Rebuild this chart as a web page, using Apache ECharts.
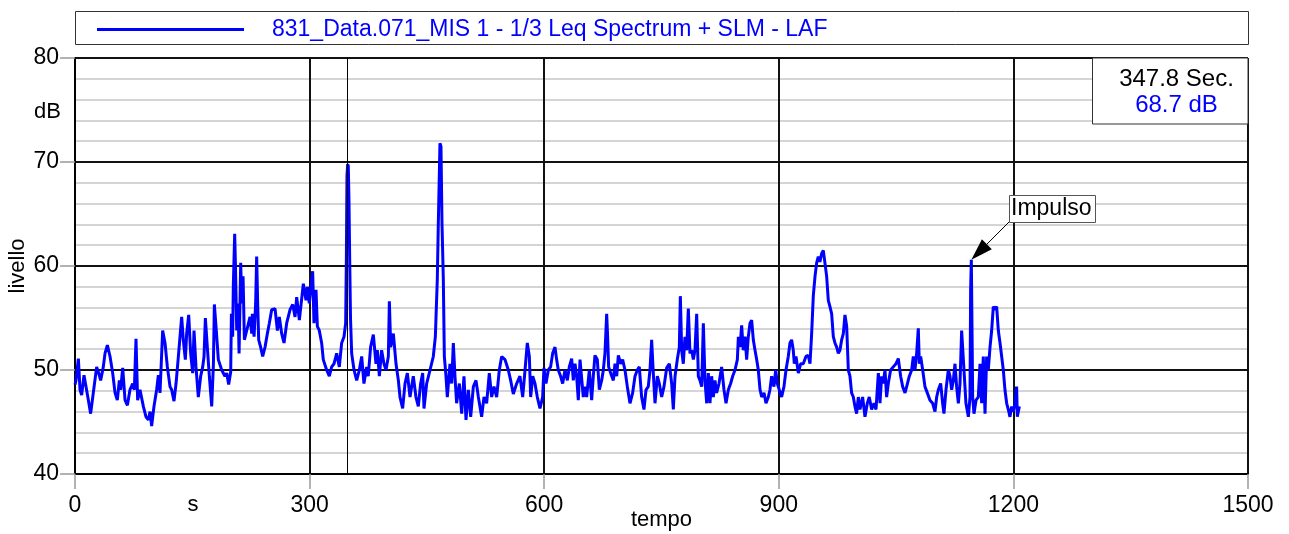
<!DOCTYPE html>
<html><head><meta charset="utf-8">
<script src="https://cdn.jsdelivr.net/npm/echarts@6/dist/echarts.min.js"></script>
<style>html,body{margin:0;padding:0;background:#fff}#c{width:1289px;height:534px}</style>
</head><body><div id="c"></div>
<script>
const seriesName = '831_Data.071_MIS 1 - 1/3 Leq Spectrum + SLM - LAF';
const xAxisTitle = 'tempo';
const xUnit = 's';
const yAxisTitle = 'livello';
const yUnit = 'dB';
const xRange = [0, 1500, 300];
const yRange = [40, 80, 10];

const timesA = [0, 1.3, 4.3, 6.4, 8.5, 11.5, 14.1, 17.1, 20, 23.4,
  27.7, 30.3, 32.8, 36.2, 38.4, 41.4, 44.8, 48.2, 51.2, 54.1,
  56.7, 58.4, 61, 64, 67, 70.3, 73.8, 75.9, 78, 80.1,
  83.1, 87.4, 90.8, 93.8, 96, 98, 101, 104.4, 106.6, 108.7,
  112.1, 115.1, 118.1, 121.5, 123.6, 126.6, 129.2, 132.2, 134.3, 136.4,
  138.5, 141.1, 142.8, 145.4, 147.9, 150.5, 152.2, 154.7, 157.7, 160.7,
  163.3, 165, 166.7, 169.2, 171.8, 174.8, 177, 178.2, 180.3, 183.3,
  187.6, 191.8, 194, 196.5, 199.1, 200, 201.6, 202.5, 204.2, 205.1,
  206.8, 208.5, 209.8, 211.9, 213.2, 214.9, 216.6, 219.6, 223.8, 226,
  226.8, 229, 231, 232.3, 233.6, 234.9, 237.4, 240, 243, 246,
  248.5, 251.5, 255.8, 258.8, 261.3, 264.3, 267.3, 270.7, 275, 278.4,
  281.4, 283.5, 286.9];
const levelsA = [48.6, 49.0, 51.1, 48.1, 47.6, 49.5, 48.4, 47.1, 45.8, 47.8,
  50.3, 49.7, 49.0, 50.3, 51.6, 52.4, 51.3, 49.7, 47.8, 47.1,
  49.0, 48.1, 50.2, 47.1, 46.6, 48.1, 48.7, 48.1, 53.0, 47.1,
  48.1, 46.5, 45.5, 45.2, 46.0, 44.6, 46.5, 48.1, 49.5, 47.8,
  53.8, 52.6, 50.3, 48.4, 48.1, 47.0, 48.7, 51.3, 51.4, 55.1,
  52.9, 51.0, 53.5, 55.3, 51.6, 49.7, 53.8, 50.3, 47.4, 49.4,
  50.3, 51.3, 55.0, 52.2, 49.4, 46.5, 50.6, 56.3, 54.2, 51.0,
  50.0, 49.4, 49.7, 48.6, 49.8, 55.4, 53.2, 58.3, 63.1, 60.3,
  53.8, 56.4, 51.6, 60.3, 56.4, 59.0, 52.9, 53.8, 55.1, 53.5,
  55.4, 53.2, 56.4, 60.9, 56.4, 52.9, 52.2, 51.3, 52.2, 53.5,
  54.5, 55.8, 55.9, 53.8, 55.1, 53.5, 52.6, 54.5, 55.8, 56.3,
  55.1, 57.0, 54.8];

const timesB = [292, 295.4, 297.1, 299.6, 303.9, 305.6, 308.2, 309.9, 312.4, 315.4,
  317.5, 321.8, 325.2, 328.2, 331.2, 334.6, 338, 341, 344, 346.1,
  347, 347.8, 348.7, 349.5, 350.4, 351.3, 352.3, 353.8, 356.8, 360.2,
  363.6, 366.6, 369.5, 373, 375, 378, 381.5, 384.9, 386.6, 389.2,
  392.1, 395.1, 397.7, 400.7, 402, 403.7, 407.1, 410.5, 413.5, 415.6,
  419, 422, 425, 428.4, 432.6, 436, 439, 442, 444.6, 446.3,
  449.7, 454, 458.2, 460.8, 463.3, 464.6, 466.7, 468, 469.3, 471,
  472.3, 474.4, 476.1, 479.5, 481.7, 483.8, 485.9, 488, 491.5, 494.5,
  497.4, 500, 503, 506, 509.4, 512.8, 515.8, 520, 523, 526.4,
  529.8, 532.8, 535.8, 539.2, 542.6, 545.6, 549.9, 554.1, 557.1, 560.5,
  564.8, 569, 572.5, 575.5, 578.4, 581, 582.7, 585.3, 588.2, 591.2,
  594.6];
const levelsB = [58.3, 56.7, 58.0, 56.4, 59.5, 54.5, 57.7, 54.2, 53.8, 52.6,
  51.0, 50.0, 49.4, 50.3, 50.6, 51.6, 50.3, 52.6, 53.2, 54.5,
  60.5, 68.7, 69.8, 69.6, 66.0, 60.5, 55.0, 51.6, 50.0, 49.0,
  50.0, 51.3, 48.7, 50.3, 49.4, 52.2, 53.4, 50.6, 51.9, 49.4,
  51.9, 50.6, 50.0, 51.3, 56.6, 52.2, 53.5, 50.6, 49.0, 47.4,
  46.3, 48.7, 49.7, 47.4, 49.4, 47.4, 46.5, 48.7, 49.7, 46.3,
  48.7, 50.0, 51.3, 53.2, 58.7, 64.1, 71.8, 71.5, 64.1, 58.7,
  51.3, 49.4, 47.4, 50.6, 48.7, 52.6, 49.4, 46.8, 48.7, 45.8,
  49.4, 45.2, 48.1, 45.5, 48.4, 49.0, 47.4, 45.5, 47.4, 46.8,
  49.7, 47.4, 48.4, 47.4, 50.0, 51.3, 51.0, 50.0, 49.0, 47.7,
  48.7, 49.4, 47.4, 50.0, 52.6, 51.3, 47.4, 49.4, 48.7, 47.4,
  46.3];

const timesC = [598, 599.7, 602.3, 605.3, 608.2, 610.8, 613.8, 615.9, 618, 621,
  623.6, 626.6, 629.6, 632.1, 635.1, 637.2, 639.4, 641.5, 643.6, 645.8,
  647.9, 650, 652.2, 654.3, 657.7, 660.7, 662.8, 664.9, 667.9, 670.5,
  673.5, 675.6, 677.7, 679.9, 681.1, 682.4, 685, 688.4, 690.5, 692.7,
  694.8, 697.8, 700.3, 703.3, 706.3, 709.7, 713.1, 716.1, 719.1, 721.6,
  724.6, 727.6, 730.2, 733.1, 735.3, 737.4, 739.5, 741.7, 744.7, 747.2,
  750.2, 753.2, 756.6, 760, 763, 765.1, 767.3, 770.2, 772.8, 774.1,
  775.8, 777.9, 780, 782.2, 784.3, 786.4, 788.6, 790.7, 792.8, 795,
  797.1, 799.2, 801.4, 803.5, 805.6, 807.8, 809.9, 812, 814.1, 816.3,
  818.4, 820.5, 823.5, 826.9, 829.9, 832.5, 835.5, 838.4, 841, 844,
  847, 848.3, 850.4, 852.5, 854.6, 856.8, 858.9, 861, 863.2, 865.3,
  867.4, 869.6, 871.7, 873.8, 876, 878.1, 881.1, 883.6, 886.6];
const levelsC = [47.4, 50.2, 48.7, 50.0, 50.3, 51.6, 52.2, 51.0, 50.0, 49.4,
  48.7, 50.0, 49.0, 50.3, 51.1, 49.0, 50.6, 49.4, 47.1, 51.0,
  51.0, 47.4, 48.4, 47.4, 50.0, 47.1, 49.4, 51.4, 51.0, 48.1,
  49.0, 50.0, 51.6, 55.4, 53.2, 50.3, 49.7, 49.0, 50.6, 49.4,
  51.4, 50.6, 51.0, 50.0, 48.4, 46.8, 47.8, 49.4, 50.0, 50.3,
  47.4, 46.2, 48.1, 48.4, 50.0, 52.9, 49.7, 46.8, 49.4, 48.7,
  47.4, 48.4, 50.2, 50.6, 48.7, 46.2, 49.4, 51.0, 52.2, 57.1,
  51.9, 50.6, 53.2, 51.9, 55.9, 51.6, 51.9, 51.0, 51.9, 55.4,
  49.4, 49.0, 48.4, 54.5, 49.0, 46.8, 49.7, 46.8, 49.4, 47.4,
  49.0, 47.8, 48.7, 50.3, 48.1, 46.8, 48.1, 48.7, 49.4, 50.0,
  51.0, 53.2, 52.2, 54.3, 51.9, 53.2, 51.0, 53.2, 54.5, 54.8,
  52.9, 51.9, 51.0, 50.0, 48.1, 47.4, 47.8, 46.8, 47.4];

const timesD = [888.7, 890.8, 893.8, 896, 898.1, 900.6, 903.6, 906.6, 909.2, 912.1,
  914.3, 916.4, 918.5, 919.8, 922, 925, 927.9, 931.3, 934.7, 937.7,
  939.9, 942, 944.1, 946.3, 948.4, 950.5, 952.6, 954.8, 956.9, 959,
  961.2, 963.3, 965.4, 967.6, 969.7, 971.8, 974, 976.1, 978.2, 980.4,
  982.5, 984.6, 986.8, 988.9, 991, 993.1, 995.3, 997.4, 999.5, 1001.7,
  1003.8, 1007.2, 1010.2, 1013.2, 1015.7, 1018.7, 1021.7, 1024.3, 1027.3, 1029.4,
  1031.5, 1033.6, 1035.8, 1037.9, 1040, 1043, 1046.4, 1049.8, 1052.8, 1055.8,
  1058.4, 1061.4, 1063.5, 1066.9, 1069.9, 1072, 1074.1, 1076.3, 1078.4, 1079.7,
  1081.4, 1084, 1086.9, 1089.9, 1093.3, 1096.7, 1099.7, 1101.9, 1104, 1107,
  1109.5, 1111.2, 1113.8, 1116.8, 1118.9, 1121, 1123.2, 1125.3, 1127.4, 1129.6,
  1131.7, 1133.8, 1135.1, 1136.8, 1139.3, 1142.4, 1144.5, 1145.3, 1146.2, 1147.1,
  1147.9, 1149.6, 1152.2, 1155.1, 1157.3, 1159.4, 1161.5, 1163.7, 1165.8, 1167.9,
  1170.1, 1172.2, 1174.3, 1176.5, 1178.6, 1180.7, 1182.9, 1185, 1187.1, 1189.2,
  1191.4, 1193.5, 1195.6, 1197.8, 1199.9, 1202, 1204.1, 1205, 1207.6];
const levelsD = [48.1, 49.4, 48.4, 50.0, 48.7, 48.1, 47.4, 48.4, 50.0, 51.3,
  52.6, 52.9, 51.9, 50.6, 51.3, 49.7, 50.6, 50.6, 51.3, 51.4,
  50.6, 53.5, 57.1, 59.0, 60.3, 60.9, 60.4, 61.2, 61.5, 60.3,
  59.0, 56.7, 56.1, 55.4, 53.2, 52.6, 52.2, 51.6, 51.9, 52.9,
  53.5, 55.3, 54.2, 50.0, 49.4, 47.8, 47.4, 46.5, 45.8, 47.4,
  46.2, 47.4, 45.5, 46.8, 47.4, 46.2, 46.8, 46.2, 49.7, 46.8,
  49.4, 48.7, 50.0, 47.4, 48.7, 50.0, 50.3, 50.6, 51.1, 49.4,
  48.4, 47.8, 48.4, 49.4, 50.0, 51.3, 50.0, 51.6, 54.0, 50.6,
  51.3, 50.0, 48.4, 47.8, 47.1, 46.8, 46.0, 47.4, 48.1, 48.7,
  46.8, 45.8, 48.1, 50.0, 49.4, 48.1, 49.0, 50.6, 48.4, 46.8,
  48.7, 53.8, 53.8, 50.0, 46.8, 45.5, 47.4, 57.7, 60.6, 53.8,
  47.4, 45.8, 47.1, 47.4, 50.6, 46.8, 51.3, 45.8, 51.3, 50.0,
  52.2, 53.8, 56.1, 55.8, 56.1, 53.8, 52.6, 51.3, 50.0, 48.1,
  46.8, 46.2, 45.5, 46.5, 46.0, 46.8, 48.4, 45.5, 46.5];

const cursorTime = 347.8;
const cursorLevel = 68.7;
const impulseTime = 1146.2;
const impulseLevel = 60.6;
const impulseLabel = 'Impulso';

const times = [].concat(timesA, timesB, timesC, timesD);
const levels = [].concat(levelsA, levelsB, levelsC, levelsD);
const seriesData = times.map((t, i) => [t, levels[i]]);

const FONT = "'Liberation Sans', Arial, sans-serif";
const BLUE = '#0000ff';
const chart = echarts.init(document.getElementById('c'), null, {renderer: 'canvas'});

const option = {
  animation: false,
  backgroundColor: '#ffffff',
  textStyle: {fontFamily: FONT},
  grid: {left: 75, right: 41, top: 58, bottom: 60, show: false, containLabel: false, outerBoundsMode: 'none'},
  legend: {
    show: true, left: 92, top: 13,
    icon: 'rect',
    itemWidth: 147, itemHeight: 3,
    textStyle: {fontFamily: FONT, fontSize: 23, color: BLUE, padding: [0, 0, 0, 23]},
    data: [{name: seriesName}]
  },
  xAxis: {
    type: 'value', min: xRange[0], max: xRange[1], interval: xRange[2],
    name: xAxisTitle, nameLocation: 'middle', nameGap: 35, nameMoveOverlap: false,
    nameTextStyle: {fontFamily: FONT, fontSize: 22, color: '#000'},
    axisLine: {show: true, onZero: false, lineStyle: {color: '#000', width: 2}},
    axisTick: {show: true, length: 15, lineStyle: {color: '#999', width: 1.5}},
    axisLabel: {fontFamily: FONT, fontSize: 23, color: '#000', margin: 20, formatter: v => String(v)},
    splitLine: {show: true, lineStyle: {color: '#111', width: 2}}
  },
  yAxis: {
    type: 'value', min: yRange[0], max: yRange[1], interval: yRange[2],
    name: yAxisTitle, nameLocation: 'middle', nameGap: 46, nameRotate: 90, nameMoveOverlap: false,
    nameTextStyle: {fontFamily: FONT, fontSize: 22, color: '#000'},
    axisLine: {show: true, lineStyle: {color: '#000', width: 2}},
    axisTick: {show: true, length: 15, lineStyle: {color: '#999', width: 1.5}},
    axisLabel: {fontFamily: FONT, fontSize: 23, color: '#000', margin: 16, formatter: v => String(v)},
    splitLine: {show: true, lineStyle: {color: '#111', width: 2}},
    minorTick: {show: false, splitNumber: 5},
    minorSplitLine: {show: true, lineStyle: {color: '#c8c8c8', width: 1.5}}
  },
  series: [{
    name: seriesName,
    type: 'line',
    data: seriesData,
    symbol: 'none',
    lineStyle: {color: BLUE, width: 3},
    itemStyle: {color: BLUE},
    z: 3,
    markLine: {
      silent: true, symbol: ['none', 'none'],
      label: {show: false},
      lineStyle: {color: '#000', width: 1, type: 'solid'},
      data: [{xAxis: cursorTime}]
    }
  }],
  graphic: []
};
chart.setOption(option);

const peak = chart.convertToPixel({gridIndex: 0}, [impulseTime, impulseLevel]);
const boxCorner = [1009, 222];
const dx = peak[0] - boxCorner[0], dy = peak[1] - boxCorner[1];
const len = Math.sqrt(dx * dx + dy * dy);
const ux = dx / len, uy = dy / len;
const headLen = 22, headHalf = 7;
const bx = peak[0] - ux * headLen, by = peak[1] - uy * headLen;
const arrowHead = [
  [peak[0], peak[1]],
  [bx - uy * headHalf, by + ux * headHalf],
  [bx + uy * headHalf, by - ux * headHalf]
];

chart.setOption({
  graphic: [
    {type: 'rect', shape: {x: 75.5, y: 11.5, width: 1173, height: 33}, style: {fill: 'none', stroke: '#333', lineWidth: 1}, z: 10},
    {type: 'rect', shape: {x: 1092.5, y: 58, width: 155.5, height: 66}, style: {fill: '#fff', stroke: '#333', lineWidth: 1}, z: 20},
    {type: 'text', x: 1176.5, y: 79, style: {text: cursorTime.toFixed(1) + ' Sec.', font: '24px ' + FONT, fill: '#000', align: 'center', verticalAlign: 'middle'}, z: 21},
    {type: 'text', x: 1176.5, y: 105, style: {text: cursorLevel.toFixed(1) + ' dB', font: '24px ' + FONT, fill: BLUE, align: 'center', verticalAlign: 'middle'}, z: 21},
    {type: 'text', x: 61, y: 112, style: {text: yUnit, font: '22px ' + FONT, fill: '#000', align: 'right', verticalAlign: 'middle'}, z: 21},
    {type: 'text', x: 193, y: 505, style: {text: xUnit, font: '22px ' + FONT, fill: '#000', align: 'center', verticalAlign: 'middle'}, z: 21},
    {type: 'line', shape: {x1: boxCorner[0], y1: boxCorner[1], x2: bx, y2: by}, style: {stroke: '#000', lineWidth: 1}, z: 22},
    {type: 'polygon', shape: {points: arrowHead}, style: {fill: '#000'}, z: 22},
    {type: 'rect', shape: {x: 1009.5, y: 195.5, width: 86, height: 27}, style: {fill: '#fff', stroke: '#555', lineWidth: 1}, z: 22},
    {type: 'text', x: 1011, y: 209, style: {text: impulseLabel, font: '23px ' + FONT, fill: '#000', align: 'left', verticalAlign: 'middle'}, z: 23}
  ]
});
</script></body></html>
